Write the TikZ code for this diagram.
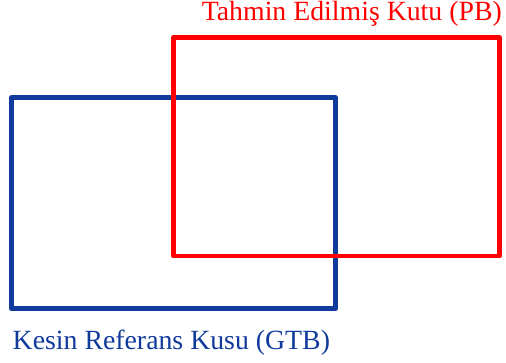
\documentclass[tikz,border=0pt]{standalone}
\usepackage{fontspec}
\setmainfont{Liberation Serif}
\definecolor{gtbblue}{RGB}{16,58,156}
\definecolor{pbred}{RGB}{255,0,0}
\tikzset{
  boxline/.style={line width=4.5pt, line join=round},
  caption/.style={inner sep=0pt, font=\fontsize{27.8pt}{30pt}\selectfont},
}
\begin{document}
\begin{tikzpicture}[x=1pt, y=-1pt]
  \useasboundingbox (0,0) rectangle (506,363);
  % ground-truth box
  \draw[boxline, gtbblue] (11.5,97.5) rectangle (335.5,308.5);
  % predicted box, drawn on top
  \draw[boxline, pbred] (173.5,37.5) rectangle (499.5,256);
  % captions
  \node[caption, text=pbred, anchor=base east] (pbl) at (502,21) {Tahmin Edilmiş Kutu (PB)};
  \node[caption, text=gtbblue, anchor=base west] (gtbl) at (12.5,349) {Kesin Referans Kusu (GTB)};
\end{tikzpicture}
\end{document}
